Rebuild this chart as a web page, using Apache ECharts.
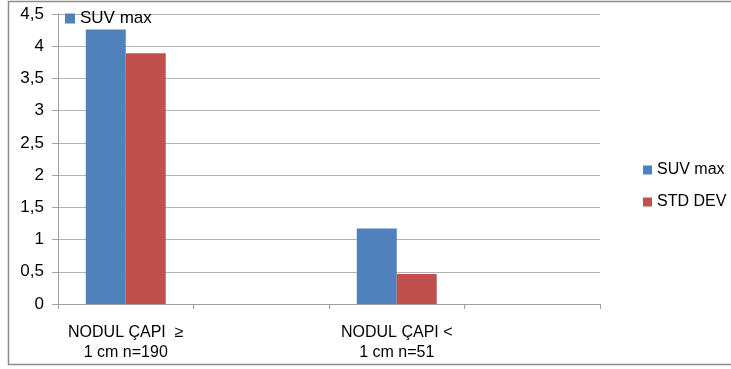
<!DOCTYPE html>
<html><head><meta charset="utf-8">
<script src="https://cdn.jsdelivr.net/npm/echarts@6/dist/echarts.min.js"></script>
<style>html,body{margin:0;padding:0;background:#fff}#c{width:731px;height:369px}</style>
</head><body><div id="c"></div>
<script>
const categories = ['NODUL ÇAPI  ≥\n1 cm n=190', '', 'NODUL ÇAPI <\n1 cm n=51', ''];
const suvMax = [4.26, null, 1.17, null];
const stdDev = [3.89, null, 0.465, null];
const yTicks = [0, 0.5, 1, 1.5, 2, 2.5, 3, 3.5, 4, 4.5];

const chart = echarts.init(document.getElementById('c'), null, {renderer: 'canvas'});
const font = 'Liberation Sans, Arial, sans-serif';
chart.setOption({
  animation: false,
  textStyle: {fontFamily: font},
  grid: {left: 58, right: 131, top: 14, bottom: 65},
  graphic: [{
    type: 'rect', shape: {x: 8.5, y: 1.5, width: 730, height: 363},
    style: {fill: 'none', stroke: '#8c8c8c', lineWidth: 1.5}, silent: true
  }],
  legend: [{
    orient: 'vertical', left: 638, top: 157, itemWidth: 9, itemHeight: 9, itemGap: 16,
    icon: 'rect', textStyle: {fontSize: 16, color: '#000', fontFamily: font},
    data: ['SUV max', 'STD DEV']
  }, {
    left: 60, top: 5, itemWidth: 10, itemHeight: 10, icon: 'rect', itemGap: 5,
    textStyle: {fontSize: 17, color: '#000', fontFamily: font},
    data: ['SUV max']
  }],
  xAxis: {
    type: 'category', data: categories,
    axisLine: {lineStyle: {color: '#a0a0a0', width: 1}},
    axisTick: {show: true, length: 5, lineStyle: {color: '#a0a0a0'}},
    axisLabel: {interval: 0, fontSize: 16, color: '#000', lineHeight: 20, margin: 19, fontFamily: font}
  },
  yAxis: {
    type: 'value', min: 0, max: 4.5, interval: 0.5,
    axisLine: {show: true, lineStyle: {color: '#a0a0a0'}},
    axisTick: {show: true, length: 6, lineStyle: {color: '#a0a0a0'}},
    splitLine: {lineStyle: {color: '#b3b3b3'}},
    axisLabel: {fontSize: 17, color: '#000', margin: 14, fontFamily: font,
      formatter: v => { const t = yTicks.find(x => Math.abs(x - v) < 1e-9); return String(t !== undefined ? t : v).replace('.', ','); }}
  },
  series: [
    {name: 'SUV max', type: 'bar', data: suvMax, barGap: '0%', barCategoryGap: '41%', itemStyle: {color: '#4F81BD'}},
    {name: 'STD DEV', type: 'bar', data: stdDev, itemStyle: {color: '#C0504D'}}
  ]
});
</script></body></html>
